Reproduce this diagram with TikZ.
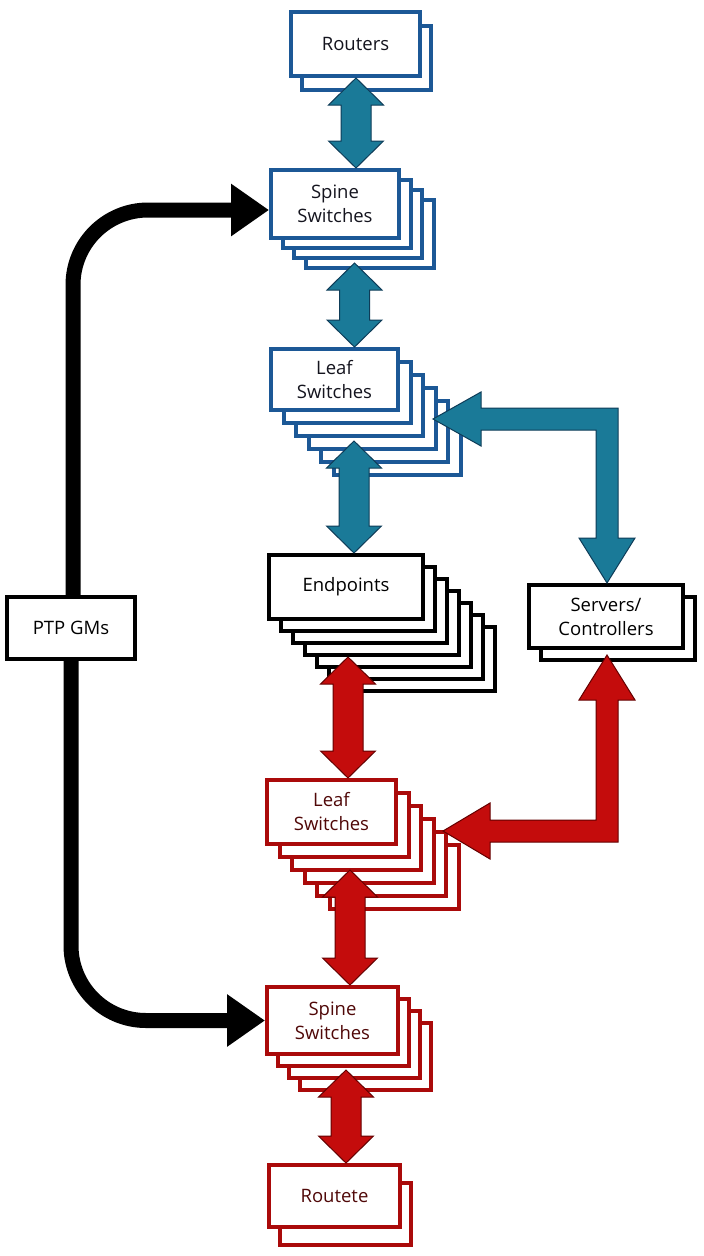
\documentclass[tikz,border=0pt]{standalone}
\usepackage{fontspec}
\setmainfont{Open Sans}
\usetikzlibrary{arrows.meta,calc}
\definecolor{bbord}{RGB}{28,88,150}
\definecolor{bfill}{RGB}{26,122,152}
\definecolor{bline}{RGB}{14,60,88}
\definecolor{rbord}{RGB}{170,10,10}
\definecolor{rfill}{RGB}{196,12,12}
\definecolor{rline}{RGB}{100,0,0}
\definecolor{btext}{RGB}{20,20,30}
\definecolor{rtext}{RGB}{80,8,8}
\tikzset{
  box/.style={draw=#1, line width=4pt, fill=white, inner sep=0pt, align=center,
    font=\fontsize{18.5}{24}\selectfont},
  barrow/.style={fill=bfill, draw=bline, line width=1pt, line join=miter},
  rarrow/.style={fill=rfill, draw=rline, line width=1pt, line join=miter},
  blk/.style={line width=15pt, draw=black, rounded corners=75pt,
    -{Triangle[length=38pt,width=50pt]}},
}
\newcommand{\vdbl}[3]{% style, top tip, bottom tip
  \path let \p1=#2, \p2=#3 in [#1]
    (\x1,\y1) -- (\x1+27.5pt,\y1-27pt) -- (\x1+15pt,\y1-27pt) -- (\x2+15pt,\y2+27pt)
    -- (\x2+27.5pt,\y2+27pt) -- (\x2,\y2) -- (\x2-27.5pt,\y2+27pt) -- (\x2-15pt,\y2+27pt)
    -- (\x1-15pt,\y1-27pt) -- (\x1-27.5pt,\y1-27pt) -- cycle;}
\begin{document}
\begin{tikzpicture}[x=1pt,y=-1pt]
\useasboundingbox (0,0) rectangle (704,1256);
\fill[white] (0,0) rectangle (704,1256);

% ---- blue stacks
\foreach \i in {1,...,1}
  \node[box=bbord, minimum width=129pt, minimum height=64pt] (br\i) at (355.5+11*\i, 44+14*\i) {};
\node[box=bbord, text=btext, minimum width=129pt, minimum height=64pt] (br) at (355.5,44) {Routers};

\foreach \i in {3,...,1}
  \node[box=bbord, minimum width=128pt, minimum height=68pt] (bs\i) at (335+11.5*\i, 204+10*\i) {};
\node[box=bbord, text=btext, minimum width=128pt, minimum height=68pt] (bs) at (335,204) {Spine\\Switches};

\foreach \i in {5,...,1}
  \node[box=bbord, minimum width=127pt, minimum height=61pt] (bl\i) at (334.5+12.5*\i, 379.5+13*\i) {};
\node[box=bbord, text=btext, minimum width=127pt, minimum height=61pt] (bl) at (334.5,379.5) {Leaf\\Switches};

% ---- black stacks
\foreach \i in {6,...,1}
  \node[box=black, minimum width=154pt, minimum height=64pt] (ep\i) at (346+12*\i, 587+12*\i) {};
\node[box=black, text=black, minimum width=154pt, minimum height=64pt] (ep) at (346,587) {Endpoints};

\node[box=black, minimum width=154pt, minimum height=63pt] (sc1) at (618,628.5) {};
\node[box=black, text=black, minimum width=154pt, minimum height=63pt] (sc) at (606,616.5) {Servers/\\Controllers};

\node[box=black, text=black, minimum width=128pt, minimum height=62pt] (ptp) at (71,628) {PTP GMs};

% ---- red stacks
\foreach \i in {5,...,1}
  \node[box=rbord, minimum width=129pt, minimum height=64pt] (rl\i) at (331.5+12.5*\i, 812+13*\i) {};
\node[box=rbord, text=rtext, minimum width=129pt, minimum height=64pt] (rl) at (331.5,812) {Leaf\\Switches};

\foreach \i in {3,...,1}
  \node[box=rbord, minimum width=131pt, minimum height=67pt] (rs\i) at (332.5+11*\i, 1020.5+12*\i) {};
\node[box=rbord, text=rtext, minimum width=131pt, minimum height=67pt] (rs) at (332.5,1020.5) {Spine\\Switches};

\node[box=rbord, minimum width=131pt, minimum height=62pt] (rr1) at (345.5,1214) {};
\node[box=rbord, text=rtext, minimum width=131pt, minimum height=62pt] (rr) at (334.5,1196) {Routete};

% ---- black PTP arrows
\draw[blk] (ptp.north -| 73,0) |- ([yshift=-6pt]bs.west);
\draw[blk] (ptp.south -| 71,0) |- (rs.west);

% ---- blue double arrows
\vdbl{barrow}{(356,0 |- br.south)}{(356,0 |- bs.north)}
\vdbl{barrow}{(354.5,263)}{(354.5,0 |- bl.north)}
\vdbl{barrow}{(354,441)}{(354,0 |- ep.north)}

% ---- blue L arrow
\coordinate (bltip) at (433,419);
\path let \p1=(bltip), \p2=(607,0 |- sc.north) in [barrow]
  (\x1,\y1) -- (\x1+48pt,\y1+27pt) -- (\x1+48pt,\y1+11pt) -- (\x2+11pt,\y1+11pt)
  -- (\x2+11pt,\y2+45pt) -- (\x2+28pt,\y2+45pt) -- (\x2,\y2) -- (\x2-28pt,\y2+45pt)
  -- (\x2-11pt,\y2+45pt) -- (\x2-11pt,\y1-11pt) -- (\x1+48pt,\y1-11pt) -- (\x1+48pt,\y1-27pt) -- cycle;

% ---- red double arrows
\vdbl{rarrow}{(348,657)}{(348,0 |- rl.north)}
\vdbl{rarrow}{(350,870)}{(350,0 |- rs.north)}
\vdbl{rarrow}{(346,1070)}{(346,0 |- rr.north)}

% ---- red L arrow
\coordinate (rltip) at (443,831);
\path let \p1=(rltip), \p2=(607,655) in [rarrow]
  (\x1,\y1) -- (\x1+47pt,\y1+28pt) -- (\x1+47pt,\y1+11pt) -- (\x2-11pt,\y1+11pt)
  -- (\x2-11pt,\y2-45pt) -- (\x2-28pt,\y2-45pt) -- (\x2,\y2) -- (\x2+28pt,\y2-45pt)
  -- (\x2+11pt,\y2-45pt) -- (\x2+11pt,\y1-11pt) -- (\x1+47pt,\y1-11pt) -- (\x1+47pt,\y1-28pt) -- cycle;
\end{tikzpicture}
\end{document}
